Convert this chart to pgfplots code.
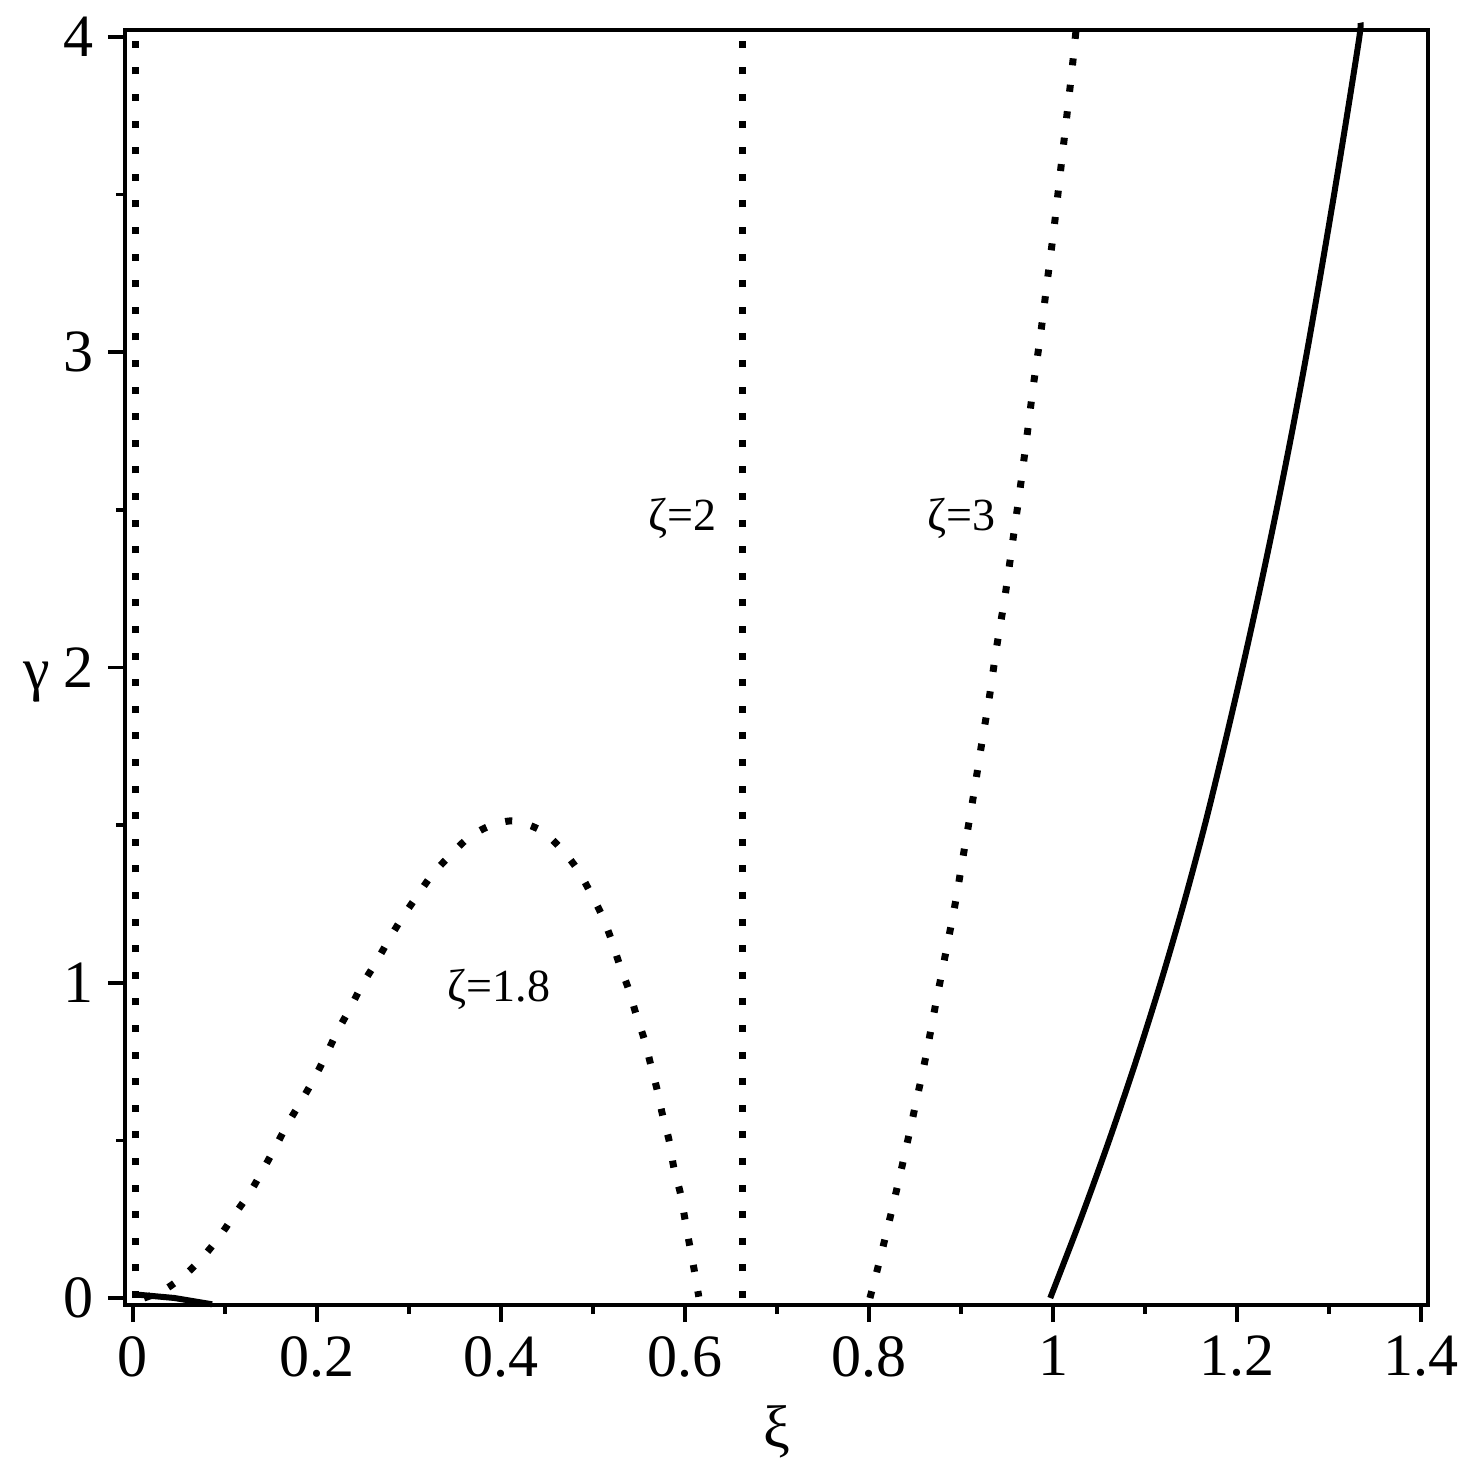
\documentclass[border=0pt]{standalone}
\usepackage{fontspec}
\setmainfont{Liberation Serif}
\usepackage{pgfplots}
\pgfplotsset{compat=1.18}
\pgfplotsset{
  zdot/.style={black, line width=1.75pt, dash pattern=on 1.75pt off 4.9pt},
  zsolid/.style={black, line width=1.5pt},
}
\begin{document}
\begin{tikzpicture}
\begin{axis}[
    scale only axis,
    width=325.75pt, height=318.75pt,
    xmin=-0.0087, xmax=1.4076,
    ymin=-0.0222, ymax=4.022,
    xtick={0,0.2,0.4,0.6,0.8,1,1.2,1.4},
    ytick={0,1,2,3,4},
    minor x tick num=1, minor y tick num=1,
    tick align=outside, xtick pos=bottom, ytick pos=left,
    major tick length=4.25pt, minor tick length=2.25pt,
    every tick/.style={black, line width=0.9pt},
    axis line style={line width=1pt},
    /pgf/number format/assume math mode=true,
    ticklabel style={font=\fontsize{15}{18}\selectfont},
    clip=false,
]

% vertical dotted line near xi = 0
\addplot[zdot] coordinates {(0.0025,0) (0.0025,4.02)};

% zeta = 1.8
\addplot[zdot, smooth] coordinates {
(0.012,0.0) (0.0336,0.025) (0.0564,0.073) (0.0763,0.131) (0.0946,0.197)
(0.110,0.263) (0.127,0.334) (0.1415,0.408) (0.155,0.480) (0.168,0.552)
(0.183,0.625) (0.197,0.697) (0.210,0.771) (0.222,0.845) (0.236,0.919)
(0.249,0.993) (0.264,1.064) (0.278,1.136) (0.293,1.208) (0.309,1.276)
(0.325,1.342) (0.345,1.405) (0.366,1.463) (0.390,1.500) (0.415,1.513)
(0.444,1.482) (0.465,1.426) (0.483,1.360) (0.497,1.287) (0.510,1.212)
(0.520,1.136) (0.529,1.056) (0.539,0.977) (0.547,0.898) (0.556,0.818)
(0.563,0.737) (0.570,0.657) (0.576,0.575) (0.583,0.496) (0.588,0.411)
(0.595,0.332) (0.600,0.249) (0.605,0.168) (0.610,0.089) (0.615,0.004)
};

% zeta = 2
\addplot[zdot] coordinates {(0.663,0) (0.663,4.02)};

% zeta = 3
\addplot[zdot, smooth] coordinates {
(0.801,0) (0.810,0.101) (0.8236,0.263) (0.8366,0.427) (0.849,0.592)
(0.861,0.755) (0.8717,0.920) (0.8826,1.083) (0.8935,1.248) (0.903,1.413)
(0.9127,1.578) (0.9217,1.744) (0.931,1.909) (0.9388,2.066) (0.948,2.229)
(0.956,2.396) (0.964,2.562) (0.9714,2.727) (0.9786,2.893) (0.9866,3.059)
(0.9938,3.226) (1.001,3.391) (1.0076,3.560) (1.0141,3.726) (1.0205,3.892)
(1.0260,4.050)
};

% solid curve
\addplot[zsolid, smooth] coordinates {
(0.997,0) (1.030,0.25) (1.061,0.5) (1.090,0.75) (1.117,1.0)
(1.142,1.25) (1.165,1.5) (1.186,1.75) (1.206,2.0) (1.225,2.25)
(1.243,2.5) (1.260,2.75) (1.276,3.0) (1.291,3.25) (1.3055,3.5)
(1.3195,3.75) (1.333,4.0) (1.3342,4.045)
};

% short solid piece near the origin
\addplot[zsolid] coordinates {(0.0,0.012) (0.045,0.0) (0.086,-0.02)};

\node[anchor=base, font=\fontsize{11.5}{14}\selectfont] at (axis cs:0.398,0.939) {ζ=1.8};
\node[anchor=base, font=\fontsize{11.5}{14}\selectfont] at (axis cs:0.597,2.433) {ζ=2};
\node[anchor=base, font=\fontsize{11.5}{14}\selectfont] at (axis cs:0.900,2.433) {ζ=3};

\node[font=\fontsize{15}{18}\selectfont] at (axis description cs:0.5,0) [yshift=-31.75pt] {ξ};
\node[font=\fontsize{15}{18}\selectfont] at (axis description cs:0,0.5) [xshift=-22pt, yshift=-3.6pt] {γ};
\end{axis}
\pgfresetboundingbox
\path ([xshift=-31.25pt,yshift=-43pt]current axis.south west) rectangle ([xshift=11.25pt,yshift=7.5pt]current axis.north east);
\end{tikzpicture}
\end{document}
